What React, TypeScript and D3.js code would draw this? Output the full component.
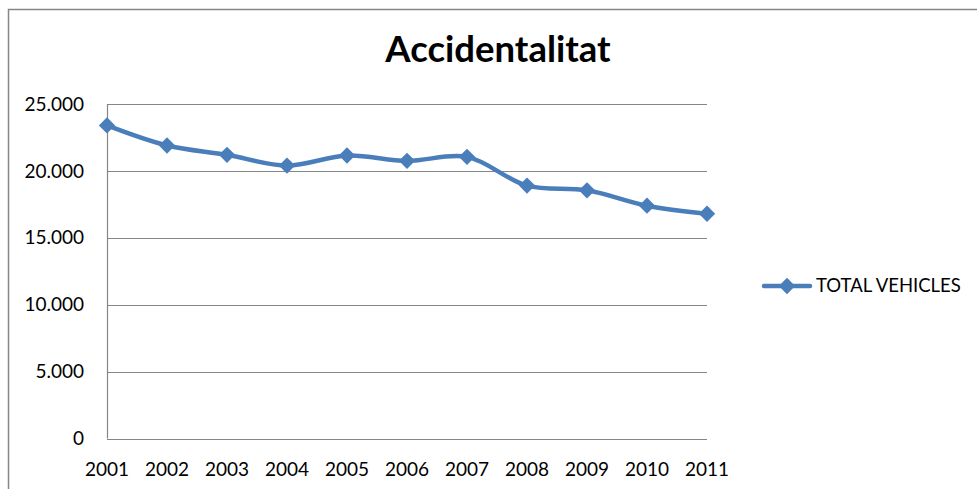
import React, { useEffect, useRef } from "react";
import * as d3 from "d3";

const years = ["2001", "2002", "2003", "2004", "2005", "2006", "2007", "2008", "2009", "2010", "2011"];
const totalVehicles = [23400, 21900, 21200, 20400, 21150, 20750, 21050, 18900, 18550, 17400, 16800];
const yTicks = [0, 5000, 10000, 15000, 20000, 25000];
const seriesName = "TOTAL VEHICLES";
const chartTitle = "Accidentalitat";

const W = 977;
const H = 489;
const blue = "#4a7ebb";
const grey = "#868686";
const font = "Lato, 'Open Sans', sans-serif";

const locale = d3.formatLocale({ decimal: ",", thousands: ".", grouping: [3], currency: ["", ""] });
const fmt = locale.format(",");

export default function App() {
  const ref = useRef<SVGSVGElement>(null);

  useEffect(() => {
    const svg = d3.select(ref.current);
    svg.selectAll("*").remove();

    const x = d3.scalePoint<string>().domain(years).range([107, 707]);
    const y = d3.scaleLinear().domain([0, 25000]).range([438.5, 104]);

    // outer frame
    svg.append("rect")
      .attr("x", 8.5).attr("y", 9.5)
      .attr("width", W + 20).attr("height", H + 20)
      .attr("fill", "white").attr("stroke", grey).attr("stroke-width", 1.5);

    svg.append("text")
      .attr("x", 498).attr("y", 62)
      .attr("text-anchor", "middle")
      .attr("font-family", font).attr("font-weight", 700).attr("font-size", 36.5)
      .text(chartTitle);

    // gridlines
    svg.append("g")
      .selectAll("line")
      .data(yTicks)
      .join("line")
      .attr("x1", 107).attr("x2", 707)
      .attr("y1", (d) => Math.round(y(d)) + 0.5).attr("y2", (d) => Math.round(y(d)) + 0.5)
      .attr("stroke", grey).attr("stroke-width", 1.2);

    svg.append("line")
      .attr("x1", 107.5).attr("x2", 107.5)
      .attr("y1", y(25000)).attr("y2", y(0))
      .attr("stroke", grey).attr("stroke-width", 1.2);

    // y labels
    svg.append("g")
      .selectAll("text")
      .data(yTicks)
      .join("text")
      .attr("x", 84).attr("y", (d) => y(d))
      .attr("dy", "0.35em")
      .attr("text-anchor", "end")
      .attr("font-family", font).attr("font-size", 19)
      .text((d) => fmt(d));

    // x labels
    svg.append("g")
      .selectAll("text")
      .data(years)
      .join("text")
      .attr("x", (d) => x(d)!).attr("y", 476)
      .attr("text-anchor", "middle")
      .attr("font-family", font).attr("font-size", 19)
      .text((d) => d);

    const line = d3.line<number>()
      .x((d, i) => x(years[i])!)
      .y((d) => y(d))
      .curve(d3.curveCatmullRom.alpha(0.5));

    svg.append("path")
      .datum(totalVehicles)
      .attr("d", line)
      .attr("fill", "none")
      .attr("stroke", blue).attr("stroke-width", 4.5)
      .attr("stroke-linejoin", "round");

    const diamond = d3.symbol(d3.symbolDiamond2, 170);

    svg.append("g")
      .selectAll("path")
      .data(totalVehicles)
      .join("path")
      .attr("transform", (d, i) => `translate(${x(years[i])},${y(d)})`)
      .attr("d", diamond)
      .attr("fill", blue);

    // legend
    const lg = svg.append("g");
    lg.append("line")
      .attr("x1", 764).attr("x2", 810)
      .attr("y1", 286).attr("y2", 286)
      .attr("stroke", blue).attr("stroke-width", 4.5)
      .attr("stroke-linecap", "round");
    lg.append("path")
      .attr("transform", "translate(787,286)")
      .attr("d", diamond)
      .attr("fill", blue);
    lg.append("text")
      .attr("x", 816).attr("y", 286)
      .attr("dy", "0.35em")
      .attr("font-family", font).attr("font-size", 18.5)
      .text(seriesName);
  }, []);

  return (
    <svg
      ref={ref}
      width={W}
      height={H}
      style={{ position: "absolute", left: 0, top: 0, background: "white" }}
    />
  );
}
